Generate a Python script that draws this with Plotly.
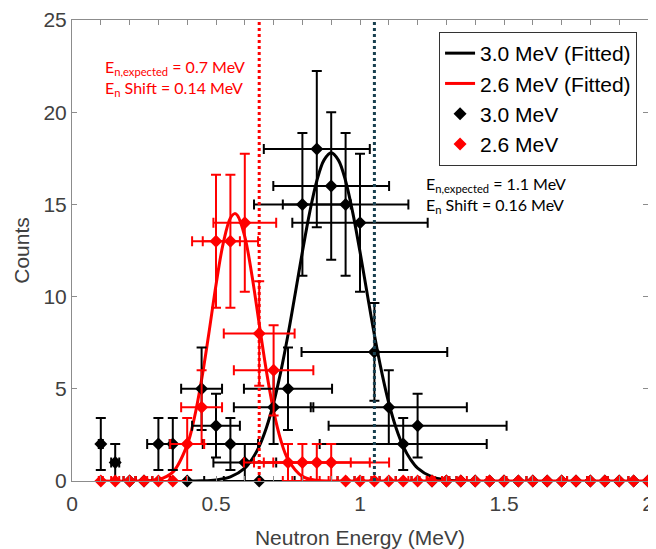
import plotly.graph_objects as go

# ---------------- data ----------------
energy = [0.10, 0.15, 0.20, 0.25, 0.30, 0.35, 0.40, 0.45, 0.50, 0.55,
          0.60, 0.65, 0.70, 0.75, 0.80, 0.85, 0.90, 0.95, 1.00, 1.05,
          1.10, 1.15, 1.20, 1.25, 1.30, 1.35, 1.40, 1.45, 1.50, 1.55,
          1.60, 1.65, 1.70, 1.75, 1.80, 1.85, 1.90, 1.95, 2.00]

counts_30 = [2, 1, 0, 0, 2, 2, 0, 5, 3, 2,
             1, 0, 4, 5, 15, 18, 16, 15, 14, 7,
             4, 2, 3, 0, 0, 0, 0, 0, 0, 0,
             0, 0, 0, 0, 0, 0, 0, 0, 0]
yerr_30 = [1.41, 1.0, 0, 0, 1.41, 1.41, 0, 2.24, 1.73, 1.41,
           1.0, 0, 2.0, 2.24, 3.87, 4.24, 4.0, 3.87, 3.74, 2.65,
           2.0, 1.41, 1.73, 0, 0, 0, 0, 0, 0, 0,
           0, 0, 0, 0, 0, 0, 0, 0, 0]

counts_26 = [0, 0, 0, 0, 0, 0, 2, 4, 13, 13,
             14, 8, 6, 1, 1, 1, 1, 0, 0, 0,
             0, 0, 0, 0, 0, 0, 0, 0, 0, 0,
             0, 0, 0, 0, 0, 0, 0, 0, 0]
yerr_26 = [0, 0, 0, 0, 0, 0, 1.41, 2.0, 3.61, 3.61,
           3.74, 2.83, 2.45, 1.0, 1.0, 1.0, 1.0, 0, 0, 0,
           0, 0, 0, 0, 0, 0, 0, 0, 0, 0,
           0, 0, 0, 0, 0, 0, 0, 0, 0]

xerr = [0.007, 0.014, 0.021, 0.029, 0.039, 0.049, 0.059, 0.071, 0.083, 0.096,
        0.109, 0.123, 0.138, 0.153, 0.168, 0.184, 0.201, 0.218, 0.235, 0.253,
        0.271, 0.290, 0.309, 0.328, 0.348, 0.369, 0.389, 0.410, 0.432, 0.453,
        0.476, 0.498, 0.521, 0.544, 0.568, 0.591, 0.615, 0.640, 0.665]

fit30_e = [0.40, 0.45, 0.50, 0.55, 0.60, 0.625, 0.65, 0.675, 0.70, 0.725,
           0.75, 0.775, 0.80, 0.825, 0.85, 0.875, 0.90, 0.925, 0.95, 0.975,
           1.00, 1.025, 1.05, 1.075, 1.10, 1.125, 1.15, 1.175, 1.20, 1.25,
           1.30, 1.35, 1.40]
fit30_c = [0.0, 0.01, 0.06, 0.22, 0.70, 1.18, 1.88, 2.89, 4.23, 5.93,
           7.93, 10.16, 12.43, 14.54, 16.27, 17.40, 17.80, 17.40, 16.27, 14.54,
           12.43, 10.16, 7.93, 5.93, 4.23, 2.89, 1.88, 1.18, 0.70, 0.22,
           0.06, 0.01, 0.0]

fit26_e = [0.10, 0.20, 0.30, 0.35, 0.40, 0.425, 0.45, 0.475, 0.50, 0.525,
           0.55, 0.565, 0.575, 0.60, 0.625, 0.65, 0.675, 0.70, 0.725, 0.75,
           0.80, 0.85, 0.90, 1.00, 1.50, 2.00]
fit26_c = [0.0, 0.0, 0.08, 0.48, 1.96, 3.43, 5.49, 7.99, 10.63, 12.89,
           14.26, 14.50, 14.39, 13.25, 11.13, 8.52, 5.96, 3.80, 2.21, 1.17,
           0.25, 0.04, 0.0, 0.0, 0.0, 0.0]

vline_red = 0.65
vline_teal = 1.05

names = ["3.0 MeV (Fitted)", "2.6 MeV (Fitted)", "3.0 MeV", "2.6 MeV"]
x_title = "Neutron Energy (MeV)"
y_title = "Counts"
note_26 = "E<sub>n,expected</sub> = 0.7 MeV<br>E<sub>n</sub> Shift = 0.14 MeV"
note_30 = "E<sub>n,expected</sub> = 1.1 MeV<br>E<sub>n</sub> Shift = 0.16 MeV"

RED = "#ff0000"
BLACK = "#000000"
TEAL = "#173f4f"
AXC = "#8c8c8c"
TXT = "#404040"

fig = go.Figure()

fig.add_trace(go.Scatter(x=fit30_e, y=fit30_c, mode="lines", name=names[0],
                         line=dict(color=BLACK, width=3, shape="spline")))
fig.add_trace(go.Scatter(x=fit26_e, y=fit26_c, mode="lines", name=names[1],
                         line=dict(color=RED, width=3, shape="spline")))

for cnt, err, col, nm in [(counts_30, yerr_30, BLACK, names[2]),
                          (counts_26, yerr_26, RED, names[3])]:
    fig.add_trace(go.Scatter(
        x=energy, y=cnt, mode="markers", name=nm, cliponaxis=False,
        marker=dict(symbol="diamond", size=10, color=col),
        error_y=dict(type="data", array=err, color=col, thickness=2, width=5),
        error_x=dict(type="data", array=xerr, color=col, thickness=2, width=5),
    ))

for xv, col in [(vline_red, RED), (vline_teal, TEAL)]:
    fig.add_shape(type="line", xref="x", yref="y", x0=xv, x1=xv, y0=0, y1=25,
                  line=dict(color=col, width=3, dash="dot"))

fig.add_annotation(x=0.108, y=23.1, xref="x", yref="y", text=note_26,
                   showarrow=False, xanchor="left", yanchor="top", align="left",
                   font=dict(family="Lato", size=16, color=RED))
fig.add_annotation(x=1.222, y=16.75, xref="x", yref="y", text=note_30,
                   showarrow=False, xanchor="left", yanchor="top", align="left",
                   font=dict(family="Lato", size=16, color=BLACK))

axis_common = dict(showline=True, linecolor=AXC, linewidth=1, mirror="ticks",
                   ticks="inside", ticklen=5, tickcolor=AXC, showgrid=False,
                   zeroline=False, automargin=False,
                   tickfont=dict(family="Liberation Sans", size=21, color=TXT))

fig.update_xaxes(range=[0, 2], dtick=0.5, ticklabelstandoff=4,
                 minor=dict(dtick=0.1, ticks="inside", ticklen=5, tickcolor=AXC),
                 title=dict(text=x_title, font=dict(family="Liberation Sans", size=21, color=TXT),
                            standoff=16),
                 **axis_common)
fig.update_yaxes(range=[0, 25], dtick=5,
                 title=dict(text=y_title, font=dict(family="Liberation Sans", size=21, color=TXT),
                            standoff=8),
                 **axis_common)

fig.update_layout(
    width=648, height=541, autosize=False,
    margin=dict(l=64, r=8, t=12, b=68),
    plot_bgcolor="white", paper_bgcolor="white",
    legend=dict(x=0.981, y=0.974, xanchor="right", yanchor="top",
                bgcolor="white", bordercolor="#333333", borderwidth=1,
                font=dict(family="Liberation Sans", size=21, color=BLACK),
                tracegroupgap=0),
    showlegend=True,
)

fig.write_html("out.html")
